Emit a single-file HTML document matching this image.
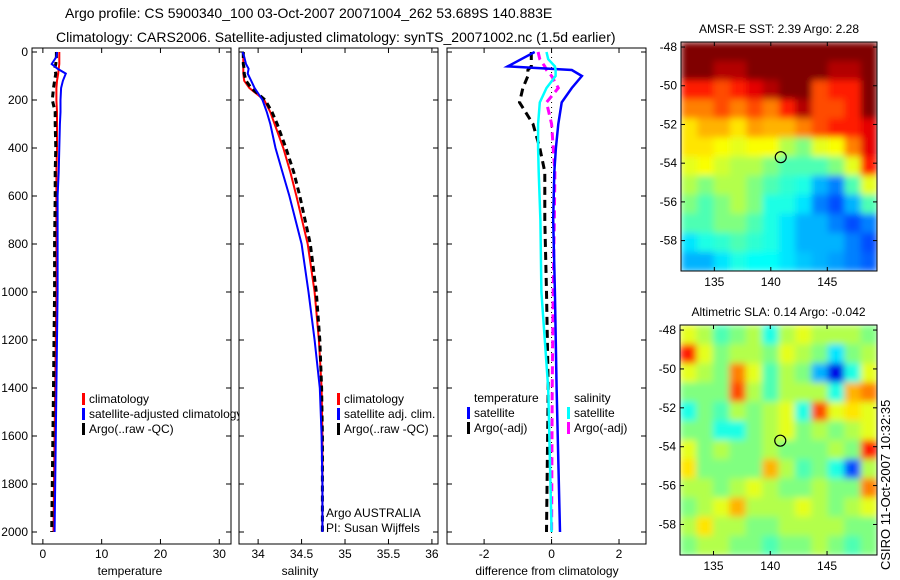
<!DOCTYPE html>
<html><head><meta charset="utf-8"><style>
body{margin:0;background:#fff;}
svg{display:block;font-family:"Liberation Sans",sans-serif;}
</style></head><body>
<svg id="s" width="900" height="580" viewBox="0 0 900 580">
<defs>
<filter id="blur" x="0" y="0" width="1" height="1"><feGaussianBlur stdDeviation="3.5" edgeMode="duplicate"/></filter>
<clipPath id="clip1"><rect x="681" y="42" width="196" height="229"/></clipPath>
<clipPath id="clip2"><rect x="680" y="325" width="197" height="230"/></clipPath>
</defs>
<text x="65" y="18" font-size="14">Argo profile: CS 5900340_100 03-Oct-2007 20071004_262 53.689S 140.883E</text>
<text x="56" y="42" font-size="14">Climatology: CARS2006. Satellite-adjusted climatology: synTS_20071002.nc (1.5d earlier)</text>
<g id="g"></g>
<text x="0" y="0" font-size="13" transform="translate(890,570) rotate(-90)">CSIRO 11-Oct-2007 10:32:35</text>
</svg>
<script>
// ---- profile data ----
const depths = [0,20,50,70,90,120,150,200,250,300,400,500,600,800,1000,1200,1400,1600,1800,2000];
const tempClim = [2.8,2.8,2.8,2.7,2.6,2.4,2.3,2.3,2.4,2.4,2.4,2.3,2.3,2.3,2.3,2.2,2.1,2.0,1.9,1.8];
const tempSat  = [2.4,2.3,1.5,2.5,3.9,3.4,3.1,3.0,3.0,2.9,2.8,2.7,2.5,2.5,2.5,2.4,2.3,2.2,2.1,2.0];
const tempArgo = [2.3,2.3,2.2,2.0,2.2,2.0,1.8,1.6,2.1,2.1,2.2,2.1,2.1,2.0,2.0,1.9,1.8,1.7,1.6,1.5];
const salClim = [33.83,33.83,33.83,33.83,33.83,33.84,33.9,34.07,34.14,34.19,34.29,34.37,34.44,34.57,34.65,34.70,34.73,34.74,34.74,34.74];
const salSat  = [33.82,33.84,33.86,33.89,33.88,33.92,33.96,34.05,34.1,34.14,34.2,34.28,34.36,34.5,34.58,34.65,34.71,34.73,34.74,34.74];
const salArgo = [33.83,33.83,33.83,33.84,33.84,33.86,33.92,34.08,34.16,34.22,34.32,34.41,34.48,34.6,34.67,34.71,34.73,34.74,34.74,34.74];
const diffDepths = [0,30,60,75,100,150,210,300,400,500,700,1000,1400,2000];
const tempSatDiff  = [-0.5,-0.9,-1.3,0.6,0.9,0.6,0.3,0.2,0.13,0.08,0.05,0.1,0.15,0.25];
const tempArgoDiff = [-0.6,-0.6,-0.6,-0.7,-0.7,-0.85,-0.95,-0.55,-0.35,-0.2,-0.2,-0.15,-0.1,-0.15];
const salSatDiff   = [-0.15,-0.1,0.1,0.12,0.12,-0.15,-0.35,-0.4,-0.4,-0.38,-0.33,-0.3,-0.1,0];
const salArgoDiff  = [-0.4,-0.35,-0.2,-0.15,0.0,0.2,-0.15,0,0.05,0.1,0.08,0.05,0.02,0];
const depthTicks = [0,200,400,600,800,1000,1200,1400,1600,1800,2000];
const tempTicks = [0,10,20,30];
const salTicks = [34,34.5,35,35.5,36];
const diffTicks = [-2,0,2];
const lonTicks = [135,140,145];
const latTicks = [-48,-50,-52,-54,-56,-58];
// ---- map data (jet colormap fraction 0..1), rows north->south ----
const sstGrid = [
[1,1,1,1,1,1,1,1,1,1,1,1],
[1,1,0.95,0.95,1,1,1,1,1,0.95,0.95,1],
[0.85,0.85,0.8,0.85,0.9,0.95,1,1,0.8,0.85,0.85,1],
[0.75,0.75,0.8,0.75,0.8,0.75,0.85,0.95,0.8,0.8,0.85,1],
[0.65,0.7,0.7,0.65,0.72,0.7,0.7,0.75,0.8,0.85,0.85,0.9],
[0.65,0.65,0.62,0.6,0.62,0.62,0.55,0.5,0.6,0.62,0.75,0.9],
[0.6,0.62,0.58,0.55,0.55,0.5,0.45,0.45,0.45,0.5,0.6,0.85],
[0.55,0.5,0.55,0.55,0.5,0.45,0.42,0.4,0.3,0.25,0.45,0.6],
[0.5,0.45,0.5,0.55,0.5,0.4,0.4,0.35,0.25,0.2,0.3,0.45],
[0.45,0.45,0.5,0.5,0.45,0.4,0.35,0.3,0.3,0.25,0.2,0.25],
[0.35,0.4,0.42,0.45,0.42,0.4,0.35,0.3,0.3,0.3,0.25,0.2],
[0.3,0.3,0.35,0.4,0.38,0.38,0.35,0.32,0.3,0.28,0.25,0.22]];
const slaGrid = [
[0.6,0.55,0.45,0.5,0.55,0.4,0.55,0.6,0.55,0.55,0.55,0.5],
[0.85,0.6,0.5,0.55,0.55,0.5,0.6,0.55,0.5,0.35,0.5,0.55],
[0.6,0.55,0.5,0.75,0.6,0.45,0.55,0.5,0.3,0.1,0.4,0.6],
[0.5,0.5,0.5,0.8,0.55,0.45,0.55,0.55,0.55,0.4,0.7,0.75],
[0.4,0.5,0.45,0.55,0.5,0.55,0.6,0.4,0.8,0.6,0.65,0.6],
[0.5,0.5,0.4,0.4,0.5,0.55,0.6,0.5,0.55,0.5,0.55,0.6],
[0.6,0.5,0.55,0.5,0.5,0.55,0.5,0.5,0.5,0.55,0.5,0.85],
[0.65,0.5,0.5,0.5,0.5,0.7,0.55,0.45,0.5,0.4,0.2,0.55],
[0.55,0.55,0.5,0.55,0.6,0.55,0.5,0.5,0.55,0.5,0.5,0.75],
[0.5,0.55,0.6,0.7,0.55,0.55,0.55,0.6,0.55,0.5,0.55,0.6],
[0.55,0.65,0.55,0.55,0.5,0.5,0.55,0.55,0.55,0.55,0.5,0.5],
[0.5,0.55,0.55,0.5,0.5,0.45,0.5,0.5,0.55,0.5,0.45,0.5]];
const floatPos = [140.88,-53.69];

const NS='http://www.w3.org/2000/svg';
const G=document.getElementById('g');
function mk(tag,attrs,parent){const e=document.createElementNS(NS,tag);for(const k in attrs)e.setAttribute(k,attrs[k]);(parent||G).appendChild(e);return e;}
const Y0=52,Y1=544,D1=2050;
function py(d){return Y0+(Y1-Y0)*d/D1;}
const panels=[
 {name:'temperature-panel',x0:32,x1:231,dom:[-1.85,32],ticks:tempTicks,label:'temperature',lx:130},
 {name:'salinity-panel',x0:239,x1:438,dom:[33.78,36.07],ticks:salTicks,label:'salinity',lx:300},
 {name:'difference-panel',x0:447,x1:646,dom:[-3.1,2.8],ticks:diffTicks,label:'difference from climatology',lx:547}];
function axX(p){return v=>p.x0+(p.x1-p.x0)*(v-p.dom[0])/(p.dom[1]-p.dom[0]);}
function line(p,xs,ds,color,w,dash,name){
 const f=axX(p);let d='';
 xs.forEach((v,i)=>{d+=(i?'L':'M')+f(v).toFixed(1)+' '+py(ds[i]).toFixed(1);});
 const e=mk('path',{d:d,fill:'none',stroke:color,'stroke-width':w},p.g);
 if(dash)e.setAttribute('stroke-dasharray',dash);
 
 
}
panels.forEach((p,pi)=>{
 const g=mk('g',{});
 
 
 p.g=g;
 const bg=mk('rect',{x:p.x0,y:Y0-4,width:p.x1-p.x0,height:Y1-Y0+4,fill:'#fff'},g);
 
 
 const f=axX(p);
 p.ticks.forEach(t=>{
  const x=f(t);
  mk('line',{x1:x,y1:Y1,x2:x,y2:Y1-5,stroke:'#000'},g);
  mk('line',{x1:x,y1:Y0-4,x2:x,y2:Y0+1,stroke:'#000'},g);
  const tx=mk('text',{x:x,y:Y1+14,'font-size':12,'text-anchor':'middle'},g);
  tx.textContent=t;
  
  
 });
 depthTicks.forEach(d=>{
  const y=py(d);
  mk('line',{x1:p.x0,y1:y,x2:p.x0+5,y2:y,stroke:'#000'},g);
  mk('line',{x1:p.x1,y1:y,x2:p.x1-5,y2:y,stroke:'#000'},g);
  if(pi===0){const tx=mk('text',{x:p.x0-4,y:y+4,'font-size':12,'text-anchor':'end'},g);tx.textContent=d;
   
   }
 });
 const xl=mk('text',{x:p.lx,y:575,'font-size':12,'text-anchor':'middle'},g);
 xl.textContent=p.label;
 
 
});
const P1=panels[0],P2=panels[1],P3=panels[2];
line(P1,tempClim,depths,'#f00',2,null,'temp-climatology-line');
line(P1,tempArgo,depths,'#000',3,'6,4','temp-argo-line');
line(P1,tempSat,depths,'#00f',2,null,'temp-satellite-line');
line(P2,salClim,depths,'#f00',2,null,'sal-climatology-line');
line(P2,salArgo,depths,'#000',3,'6,4','sal-argo-line');
line(P2,salSat,depths,'#00f',2,null,'sal-satellite-line');
{const x=axX(P3)(0);const e=mk('line',{x1:x,y1:Y0,x2:x,y2:Y1,stroke:'#000','stroke-dasharray':'1,4'},P3.g);
 
 }
line(P3,tempArgoDiff,diffDepths,'#000',3,'8,5','temp-argo-diff-line');
line(P3,salArgoDiff,diffDepths,'#f0f',3,'8,5','sal-argo-diff-line');
line(P3,tempSatDiff,diffDepths,'#00f',2.5,null,'temp-satellite-diff-line');
line(P3,salSatDiff,diffDepths,'#0ff',2.5,null,'sal-satellite-diff-line');
function legend(g,items,x,y){items.forEach((it,i)=>{
 const yy=y+i*15;
 if(it.c){mk('rect',{x:x,y:yy-10,width:3,height:12,fill:it.c},g);}
 const t=mk('text',{x:x+7,y:yy,'font-size':12},g);t.textContent=it.t;
 
 
});}
legend(P1.g,[{c:'#f00',t:'climatology'},{c:'#00f',t:'satellite-adjusted climatology'},{c:'#000',t:'Argo(..raw -QC)'}],82,403);
legend(P2.g,[{c:'#f00',t:'climatology'},{c:'#00f',t:'satellite adj. clim.'},{c:'#000',t:'Argo(..raw -QC)'}],337,403);
legend(P3.g,[{c:null,t:'temperature'},{c:'#00f',t:'satellite'},{c:'#000',t:'Argo(-adj)'}],467,402);
legend(P3.g,[{c:null,t:'salinity'},{c:'#0ff',t:'satellite'},{c:'#f0f',t:'Argo(-adj)'}],567,402);
{const t1=mk('text',{x:326,y:517,'font-size':12},P2.g);t1.textContent='Argo AUSTRALIA';
 
 const t2=mk('text',{x:326,y:532,'font-size':12},P2.g);t2.textContent='PI: Susan Wijffels';
 }
panels.forEach(p=>{mk('rect',{x:p.x0,y:Y0-4,width:p.x1-p.x0,height:Y1-Y0+4,fill:'none',stroke:'#000'},p.g);});
// ---- maps ----
function jet(v){v=Math.max(0,Math.min(1,v));
 const r=Math.max(0,Math.min(1,1.5-Math.abs(4*v-3))),g=Math.max(0,Math.min(1,1.5-Math.abs(4*v-2))),b=Math.max(0,Math.min(1,1.5-Math.abs(4*v-1)));
 return `rgb(${Math.round(r*255)},${Math.round(g*255)},${Math.round(b*255)})`;}
function map(name,grid,x0,x1,y0,y1,title,clip){
 const g=mk('g',{});
 
 
 const lon=[132.05,149.4],lat=[-47.74,-59.57];
 const fx=v=>x0+(x1-x0)*(v-lon[0])/(lon[1]-lon[0]);
 const fy=v=>y0+(y1-y0)*(v-lat[0])/(lat[1]-lat[0]);
 const R=grid.length,C=grid[0].length,cw=(x1-x0)/C,ch=(y1-y0)/R;
 const cg=mk('g',{'clip-path':'url(#'+clip+')'},g);
 const hg=mk('g',{filter:'url(#blur)'},cg);
 grid.forEach((row,i)=>row.forEach((v,j)=>{
  const c=mk('rect',{x:x0+j*cw,y:y0+i*ch,width:cw+0.6,height:ch+0.6,fill:jet(v)},hg);
  
  
 }));
 mk('rect',{x:x0,y:y0,width:x1-x0,height:y1-y0,fill:'none',stroke:'#000'},g);
 lonTicks.forEach(t=>{const x=fx(t);
  mk('line',{x1:x,y1:y1,x2:x,y2:y1-4,stroke:'#000'},g);
  mk('line',{x1:x,y1:y0,x2:x,y2:y0+4,stroke:'#000'},g);
  const tx=mk('text',{x:x,y:y1+15,'font-size':12,'text-anchor':'middle'},g);tx.textContent=t;
  });
 latTicks.forEach(t=>{const y=fy(t);
  mk('line',{x1:x0,y1:y,x2:x0+4,y2:y,stroke:'#000'},g);
  mk('line',{x1:x1,y1:y,x2:x1-4,y2:y,stroke:'#000'},g);
  const tx=mk('text',{x:x0-4,y:y+4,'font-size':12,'text-anchor':'end'},g);tx.textContent=t;
  });
 const ci=mk('circle',{cx:fx(floatPos[0]),cy:fy(floatPos[1]),r:5.5,fill:'none',stroke:'#000','stroke-width':1.2},g);
 
 
 const tt=mk('text',{x:(x0+x1)/2,y:y0-9,'font-size':12,'text-anchor':'middle'},g);tt.textContent=title;
 
}
map('sst-map',sstGrid,681,877,42,271,'AMSR-E SST: 2.39 Argo: 2.28','clip1');
map('sla-map',slaGrid,680,877,325,555,'Altimetric SLA: 0.14 Argo: -0.042','clip2');
</script>
</body></html>
